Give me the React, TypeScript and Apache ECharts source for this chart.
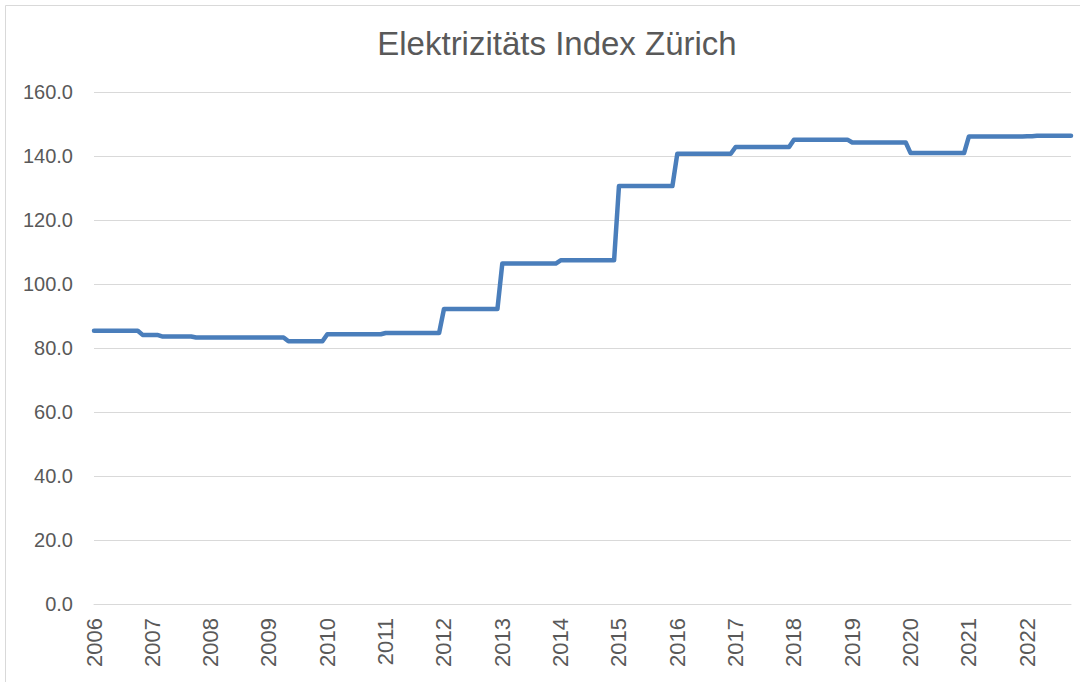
import React, { useEffect, useRef } from "react";
import * as echarts from "echarts";

const TITLE = "Elektrizitäts Index Zürich";
const years = [2006, 2007, 2008, 2009, 2010, 2011, 2012, 2013, 2014, 2015, 2016, 2017, 2018, 2019, 2020, 2021, 2022];

// monthly index values (Jan..Dec per year)
const v2006 = [85.4, 85.4, 85.4, 85.4, 85.4, 85.4, 85.4, 85.4, 85.4, 85.4, 84.1, 84.1];
const v2007 = [84.1, 84.1, 83.6, 83.6, 83.6, 83.6, 83.6, 83.6, 83.6, 83.3, 83.3, 83.3];
const v2008 = [83.3, 83.3, 83.3, 83.3, 83.3, 83.3, 83.3, 83.3, 83.3, 83.3, 83.3, 83.3];
const v2009 = [83.3, 83.3, 83.3, 83.3, 82.1, 82.1, 82.1, 82.1, 82.1, 82.1, 82.1, 82.1];
const v2010 = [84.3, 84.3, 84.3, 84.3, 84.3, 84.3, 84.3, 84.3, 84.3, 84.3, 84.3, 84.3];
const v2011 = [84.7, 84.7, 84.7, 84.7, 84.7, 84.7, 84.7, 84.7, 84.7, 84.7, 84.7, 84.7];
const v2012 = [92.2, 92.2, 92.2, 92.2, 92.2, 92.2, 92.2, 92.2, 92.2, 92.2, 92.2, 92.2];
const v2013 = [106.4, 106.4, 106.4, 106.4, 106.4, 106.4, 106.4, 106.4, 106.4, 106.4, 106.4, 106.4];
const v2014 = [107.4, 107.4, 107.4, 107.4, 107.4, 107.4, 107.4, 107.4, 107.4, 107.4, 107.4, 107.4];
const v2015 = [130.6, 130.6, 130.6, 130.6, 130.6, 130.6, 130.6, 130.6, 130.6, 130.6, 130.6, 130.6];
const v2016 = [140.7, 140.7, 140.7, 140.7, 140.7, 140.7, 140.7, 140.7, 140.7, 140.7, 140.7, 140.7];
const v2017 = [142.8, 142.8, 142.8, 142.8, 142.8, 142.8, 142.8, 142.8, 142.8, 142.8, 142.8, 142.8];
const v2018 = [145.1, 145.1, 145.1, 145.1, 145.1, 145.1, 145.1, 145.1, 145.1, 145.1, 145.1, 145.1];
const v2019 = [144.2, 144.2, 144.2, 144.2, 144.2, 144.2, 144.2, 144.2, 144.2, 144.2, 144.2, 144.2];
const v2020 = [140.9, 140.9, 140.9, 140.9, 140.9, 140.9, 140.9, 140.9, 140.9, 140.9, 140.9, 140.9];
const v2021 = [146.1, 146.1, 146.1, 146.1, 146.1, 146.1, 146.1, 146.1, 146.1, 146.1, 146.1, 146.1];
const v2022 = [146.2, 146.2, 146.3, 146.3, 146.3, 146.3, 146.3, 146.3, 146.3, 146.3];

const yearValues = [v2006, v2007, v2008, v2009, v2010, v2011, v2012, v2013, v2014, v2015, v2016, v2017, v2018, v2019, v2020, v2021, v2022];
const yTicks = [0, 20, 40, 60, 80, 100, 120, 140, 160];

export default function App() {
  const ref = useRef<HTMLDivElement>(null);
  useEffect(() => {
    document.body.style.margin = "0";
    if (!ref.current) return;
    const chart = echarts.init(ref.current, undefined, { renderer: "svg" });
    const categories: string[] = [];
    const values: number[] = [];
    yearValues.forEach((arr, yi) => {
      arr.forEach((v, mi) => {
        categories.push(`${years[yi]}-${String(mi + 1).padStart(2, "0")}`);
        values.push(v);
      });
    });
    const font = "'Liberation Sans', Arial, sans-serif";
    chart.setOption({
      animation: false,
      backgroundColor: "#ffffff",
      textStyle: { fontFamily: font },
      title: {
        text: TITLE,
        left: 552,
        top: 22,
        textAlign: "center",
        textStyle: { color: "#595959", fontSize: 33, fontWeight: "normal", fontFamily: font },
      },
      graphic: [
        {
          type: "rect",
          shape: { x: 5.5, y: 5.5, width: 1200, height: 800 },
          style: { fill: "none", stroke: "#d9d9d9", lineWidth: 1 },
          silent: true,
        },
      ],
      grid: { left: 94, right: 9, top: 92, bottom: 78, containLabel: false },
      xAxis: {
        type: "category",
        data: categories,
        boundaryGap: false,
        axisLine: { show: true, lineStyle: { color: "#d9d9d9", width: 1 } },
        axisTick: { show: false },
        splitLine: { show: false },
        axisLabel: {
          interval: (index: number) => index % 12 === 0,
          rotate: 90,
          margin: 14,
          color: "#595959",
          fontSize: 22,
          fontFamily: font,
          formatter: (v: string) => v.slice(0, 4),
        },
      },
      yAxis: {
        type: "value",
        min: yTicks[0],
        max: yTicks[yTicks.length - 1],
        interval: 20,
        axisLine: { show: false },
        axisTick: { show: false },
        splitLine: { show: true, lineStyle: { color: "#d9d9d9", width: 1 } },
        axisLabel: {
          margin: 21,
          color: "#595959",
          fontSize: 20,
          fontFamily: font,
          formatter: (v: number) => v.toFixed(1),
        },
      },
      series: [
        {
          type: "line",
          data: values,
          showSymbol: false,
          symbol: "none",
          lineStyle: { color: "#4a7ebb", width: 4.5, cap: "round", join: "round" },
          itemStyle: { color: "#4a7ebb" },
        },
      ],
    });
    return () => chart.dispose();
  }, []);
  return <div ref={ref} style={{ width: 1080, height: 682 }} />;
}
